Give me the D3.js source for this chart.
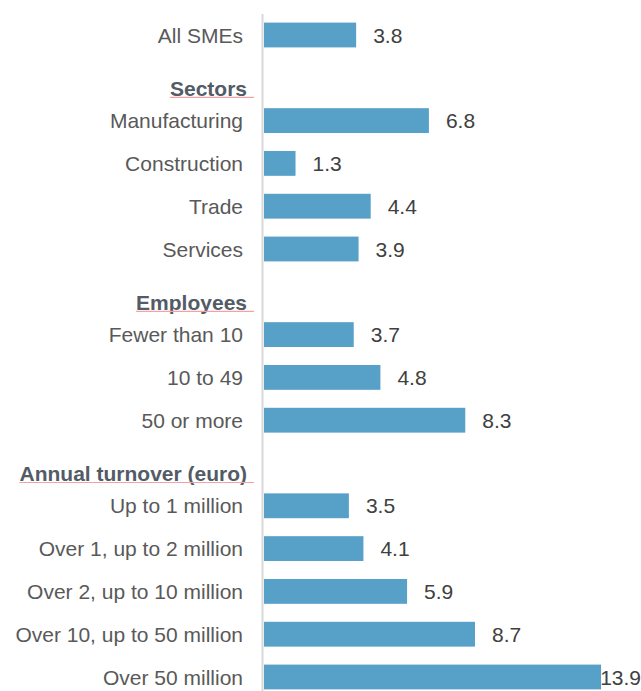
<!DOCTYPE html>
<html>
<head>
<meta charset="utf-8">
<script src="https://cdn.jsdelivr.net/npm/d3@7"></script>
<style>
  html, body { margin: 0; padding: 0; background: #fff; }
  svg text { font-family: "Liberation Sans", Arial, sans-serif; }
</style>
</head>
<body>
<div id="chart"></div>
<script>
// rows, top to bottom; headers have no value
var rowLabels = ["All SMEs", "Sectors", "Manufacturing", "Construction", "Trade", "Services",
    "Employees", "Fewer than 10", "10 to 49", "50 or more",
    "Annual turnover (euro)", "Up to 1 million", "Over 1, up to 2 million",
    "Over 2, up to 10 million", "Over 10, up to 50 million", "Over 50 million"];
var rowValues = [3.8, null, 6.8, 1.3, 4.4, 3.9, null, 3.7, 4.8, 8.3, null, 3.5, 4.1, 5.9, 8.7, 13.9];
var headerRows = ["Sectors", "Employees", "Annual turnover (euro)"];

var W = 641, H = 691;
var rows = rowLabels.map(function(d, i) { return { label: d, value: rowValues[i] }; });

var svg = d3.select("#chart").append("svg")
    .attr("width", W)
    .attr("height", H);

var y = d3.scaleBand()
    .domain(rowLabels)
    .range([13.6, 698.4])
    .paddingInner(0.42)
    .paddingOuter(0.21);

var x = d3.scaleLinear()
    .domain([0, 14])
    .range([264, 603.5]);

// bars
var bars = rows.filter(function(d) { return d.value != null; });
svg.selectAll("rect.bar").data(bars).enter()
    .append("rect")
    .attr("class", "bar")
    .attr("x", x(0))
    .attr("y", function(d) { return y(d.label); })
    .attr("width", function(d) { return x(d.value) - x(0); })
    .attr("height", y.bandwidth())
    .attr("fill", "#57a0c8");

// vertical axis line
svg.append("line")
    .attr("x1", 262.5).attr("x2", 262.5)
    .attr("y1", 14).attr("y2", H)
    .attr("stroke", "#d9d9d9")
    .attr("stroke-width", 2);

// category labels
var mid = function(d) { return y(d) + y.bandwidth() / 2; };
svg.selectAll("text.cat").data(bars).enter()
    .append("text")
    .attr("class", "cat")
    .attr("x", 243)
    .attr("y", function(d) { return mid(d.label) + 7.5; })
    .attr("text-anchor", "end")
    .attr("font-size", 21)
    .attr("fill", "#595959")
    .text(function(d) { return d.label; });

// group headers, bold with the thin pink underline
var heads = svg.selectAll("g.head").data(headerRows).enter()
    .append("g")
    .attr("class", "head");
heads.append("text")
    .attr("x", 247)
    .attr("y", function(d) { return mid(d) + 18; })
    .attr("text-anchor", "end")
    .attr("font-size", 21)
    .attr("font-weight", "bold")
    .attr("fill", "#525b66")
    .text(function(d) { return d; });
heads.each(function(d) {
    var g = d3.select(this);
    var bb = g.select("text").node().getBBox();
    g.append("line")
        .attr("x1", bb.x).attr("x2", 254)
        .attr("y1", mid(d) + 19.5).attr("y2", mid(d) + 19.5)
        .attr("stroke", "#f2a3a3")
        .attr("stroke-width", 1.2);
});

// value labels, kept inside the page on the right
svg.selectAll("text.val").data(bars).enter()
    .append("text")
    .attr("class", "val")
    .attr("y", function(d) { return mid(d.label) + 7.5; })
    .attr("font-size", 21)
    .attr("fill", "#404040")
    .text(function(d) { return d3.format(".1f")(d.value); })
    .each(function(d) {
        var t = d3.select(this);
        var w = this.getComputedTextLength();
        var px = x(d.value) + 17;
        if (px + w > W) px = W - w;
        t.attr("x", px);
    });
</script>
</body>
</html>
